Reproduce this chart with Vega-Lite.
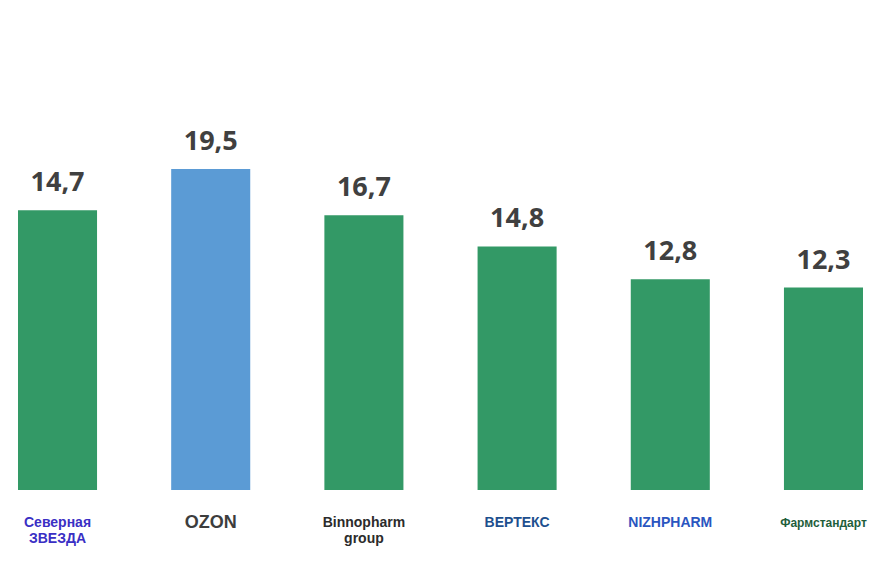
{
  "$schema": "https://vega.github.io/schema/vega-lite/v6.json",
  "autosize": {"type": "none"},
  "padding": {"top": 95, "left": 0, "right": 0, "bottom": 76},
  "width": 881,
  "height": 395,
  "background": "white",
  "config": {"view": {"stroke": null}},
  "data": {
    "values": [
      {"company": "Северная|ЗВЕЗДА", "value": 17.0, "label": "14,7", "highlight": "no"},
      {"company": "OZON", "value": 19.5, "label": "19,5", "highlight": "yes"},
      {"company": "Binnopharm|group", "value": 16.7, "label": "16,7", "highlight": "no"},
      {"company": "ВЕРТЕКС", "value": 14.8, "label": "14,8", "highlight": "no"},
      {"company": "NIZHPHARM", "value": 12.8, "label": "12,8", "highlight": "no"},
      {"company": "Фармстандарт", "value": 12.3, "label": "12,3", "highlight": "no"}
    ]
  },
  "encoding": {
    "x": {
      "field": "company",
      "type": "nominal",
      "sort": null,
      "scale": {"paddingInner": 0.484, "paddingOuter": 0.1175},
      "axis": {
        "title": null,
        "domain": false,
        "ticks": false,
        "labelAngle": 0,
        "labelPadding": 32,
        "labelBaseline": "middle",
        "labelFont": "Liberation Sans",
        "labelFontSize": {
          "condition": [
            {"test": "datum.value === 'Фармстандарт'", "value": 12},
            {"test": "datum.value === 'OZON'", "value": 18}
          ],
          "value": 14
        },
        "labelLineHeight": 16,
        "labelFontWeight": "bold",
        "labelLimit": 200,
        "labelExpr": "split(datum.label, '|')",
        "labelColor": {
          "condition": [
            {"test": "datum.value === 'Северная|ЗВЕЗДА'", "value": "#3a2fc4"},
            {"test": "datum.value === 'OZON'", "value": "#3d3d3d"},
            {"test": "datum.value === 'Binnopharm|group'", "value": "#2b2b2b"},
            {"test": "datum.value === 'ВЕРТЕКС'", "value": "#1d4f8e"},
            {"test": "datum.value === 'NIZHPHARM'", "value": "#2a55c0"}
          ],
          "value": "#1f5e3b"
        }
      }
    },
    "y": {
      "field": "value",
      "type": "quantitative",
      "scale": {"domain": [0, 24], "nice": false, "zero": true},
      "axis": null
    }
  },
  "layer": [
    {
      "mark": {"type": "bar"},
      "encoding": {
        "color": {
          "field": "highlight",
          "type": "nominal",
          "scale": {"domain": ["no", "yes"], "range": ["#339966", "#5b9bd5"]},
          "legend": null
        }
      }
    },
    {
      "mark": {
        "type": "text",
        "baseline": "alphabetic",
        "dy": -19,
        "font": "Open Sans",
        "fontSize": 27,
        "fontWeight": "bold",
        "color": "#404040"
      },
      "encoding": {"text": {"field": "label", "type": "nominal"}}
    }
  ]
}
